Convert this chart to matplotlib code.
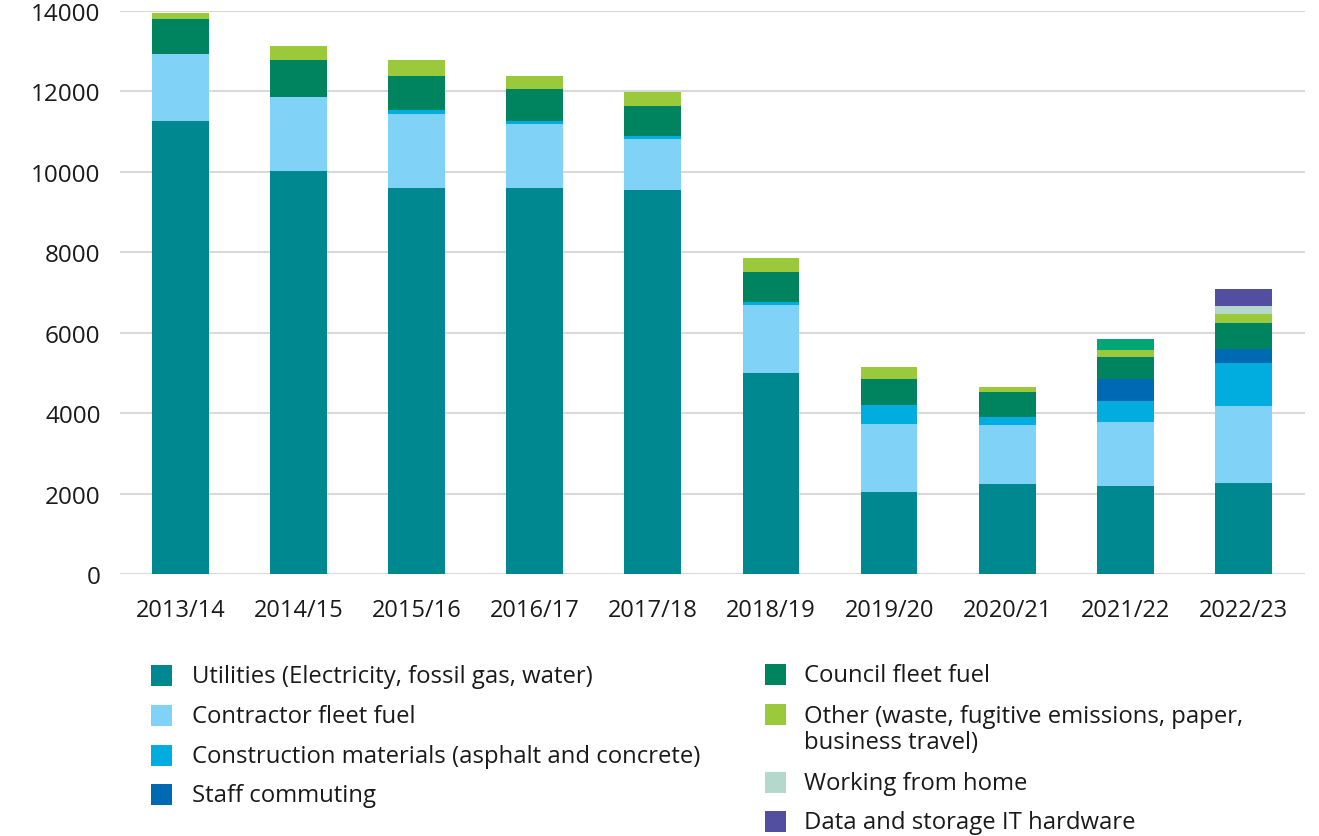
import matplotlib
matplotlib.use("Agg")
from matplotlib import pyplot as plt
from matplotlib.patches import Rectangle
import numpy as np

plt.rcParams["font.family"] = ["Open Sans", "DejaVu Sans"]

years = ["2013/14", "2014/15", "2015/16", "2016/17", "2017/18",
         "2018/19", "2019/20", "2020/21", "2021/22", "2022/23"]

utilities    = [11270, 10020, 9600, 9600, 9550, 5000, 2040, 2240, 2190, 2260]
contractor   = [1665, 1840, 1840, 1590, 1270, 1690, 1690, 1465, 1590, 1915]
construction = [0, 0, 100, 75, 75, 75, 470, 200, 520, 1070]
commuting    = [0, 0, 0, 0, 0, 0, 0, 0, 555, 350]
council      = [870, 920, 845, 795, 745, 745, 645, 620, 540, 645]
other        = [150, 350, 400, 330, 355, 350, 305, 125, 175, 225]
wfh          = [0, 0, 0, 0, 0, 0, 0, 0, 275, 200]
it_hardware  = [0, 0, 0, 0, 0, 0, 0, 0, 0, 420]

labels = ["Utilities (Electricity, fossil gas, water)",
          "Contractor fleet fuel",
          "Construction materials (asphalt and concrete)",
          "Staff commuting",
          "Council fleet fuel",
          "Other (waste, fugitive emissions, paper,\nbusiness travel)",
          "Working from home",
          "Data and storage IT hardware"]
series = [utilities, contractor, construction, commuting, council, other, wfh, it_hardware]
colors = ["#008891", "#80D3F7", "#00ADDE", "#0069B4",
          "#00845F", "#9BC93C", "#B4D8CC", "#524FA1"]
# the 2021/22 working-from-home block is drawn in a brighter green in the original
wfh_bar_colors = ["#B4D8CC"] * 8 + ["#00A676", "#B4D8CC"]

W, H = 1319, 837
fig = plt.figure(figsize=(W / 100, H / 100), dpi=100)
ax = fig.add_axes([120 / W, 1 - 575 / H, (1305 - 120) / W, (575 - 12) / H])

x = np.arange(len(years))
bottom = np.zeros(len(years))
for vals, col, lab in zip(series, colors, labels):
    c = wfh_bar_colors if lab == "Working from home" else col
    ax.bar(x, vals, 0.48, bottom=bottom, color=c, linewidth=0, zorder=3)
    bottom += np.array(vals)

ax.set_xlim(-0.51, 9.52)
ax.set_ylim(0, 14000)
ax.set_yticks(np.arange(0, 14001, 2000))
ax.yaxis.grid(True, color="#d9d9d9", linewidth=1.5, zorder=0)
ax.set_xticks(x)
ax.set_xticklabels(years)
for s in ax.spines.values():
    s.set_visible(False)
ax.tick_params(axis="both", length=0, colors="#1a1a1a")
ax.tick_params(axis="x", labelsize=17, pad=17)
ax.tick_params(axis="y", labelsize=17.5, pad=14)

# legend, two columns
left_rows = [677, 717, 757, 796]
right_rows = [676, 730, 784, 823]
for i, (lab, col) in enumerate(zip(labels, colors)):
    if i < 4:
        sx, tx, y = 151, 192, left_rows[i]
    else:
        sx, tx, y = 765, 804, right_rows[i - 4]
    sy = y - 14 if "\n" in lab else y
    fig.add_artist(Rectangle((sx / W, 1 - (sy + 10) / H), 21 / W, 21 / H,
                             transform=fig.transFigure, color=col, linewidth=0))
    fig.text(tx / W, 1 - y / H, lab, fontsize=17.2, va="center", ha="left",
             color="#1a1a1a", linespacing=1.12)

fig.savefig("out.png", dpi=100)
